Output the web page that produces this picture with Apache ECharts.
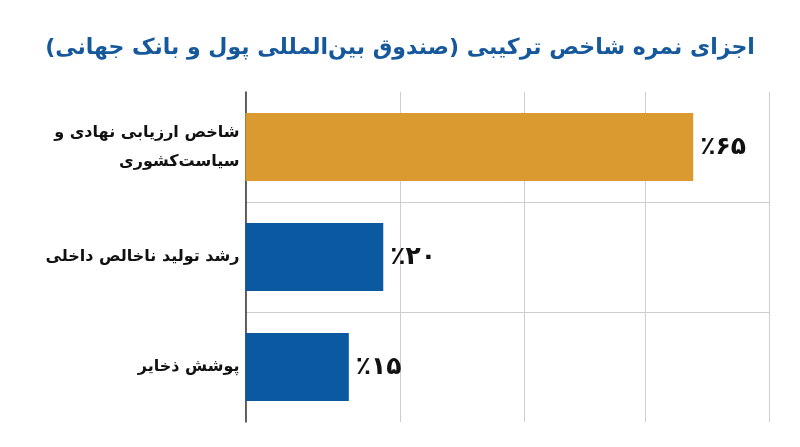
<!DOCTYPE html>
<html lang="fa">
<head>
<meta charset="utf-8">
<script src="https://cdn.jsdelivr.net/npm/echarts@6/dist/echarts.min.js"></script>
<style>
  html, body { margin: 0; padding: 0; background: #fff; }
  #main { width: 800px; height: 447px; }
</style>
</head>
<body>
<div id="main" dir="rtl"></div>
<script>
// chart data
const titleText = 'اجزای نمره شاخص ترکیبی (صندوق بین‌المللی پول و بانک جهانی)';
const categories = ['شاخص ارزیابی نهادی و\nسیاست‌کشوری', 'رشد تولید ناخالص داخلی', 'پوشش ذخایر'];
const values = [65, 20, 15];
const gridValues = [0, 22.5, 40.5, 58, 76];
const barColors = ['#DB9A2F', '#0B5AA1', '#0B5AA1'];

const fontFamily = "'DejaVu Sans', sans-serif";

// latin digits -> persian digits
function toPersian(n) {
  return String(n).replace(/\d/g, d => '۰۱۲۳۴۵۶۷۸۹'[d]);
}

const myChart = echarts.init(document.getElementById('main'));

myChart.setOption({
  backgroundColor: '#fff',
  animation: false,
  title: {
    text: titleText,
    left: 'center',
    top: 32,
    textStyle: { fontFamily: fontFamily, fontSize: 22, fontWeight: 'bold', color: '#15589B' }
  },
  grid: { left: 245.5, right: 31, top: 92, bottom: 25 },
  xAxis: {
    type: 'value',
    min: 0,
    max: gridValues[gridValues.length - 1],
    axisLine: { show: false },
    axisTick: { show: false, customValues: gridValues },
    axisLabel: { show: false },
    splitLine: { show: true, lineStyle: { color: '#cdcdcd', width: 1 } }
  },
  yAxis: {
    type: 'category',
    inverse: true,
    data: categories,
    axisLine: { show: true, lineStyle: { color: '#333', width: 1.5 } },
    axisTick: { show: false },
    axisLabel: {
      margin: 6,
      fontFamily: fontFamily,
      fontSize: 16,
      fontWeight: 'bold',
      color: '#111',
      lineHeight: 29,
      align: 'right'
    },
    splitLine: {
      show: true,
      showMinLine: false,
      showMaxLine: false,
      lineStyle: { color: '#cdcdcd', width: 1 }
    }
  },
  series: [{
    type: 'bar',
    data: values,
    barWidth: 68,
    itemStyle: { color: p => barColors[p.dataIndex] },
    label: {
      show: true,
      position: 'right',
      distance: 7,
      fontFamily: fontFamily,
      fontSize: 25,
      fontWeight: 'bold',
      color: '#111',
      formatter: p => '٪' + toPersian(p.value)
    }
  }]
});
</script>
</body>
</html>
